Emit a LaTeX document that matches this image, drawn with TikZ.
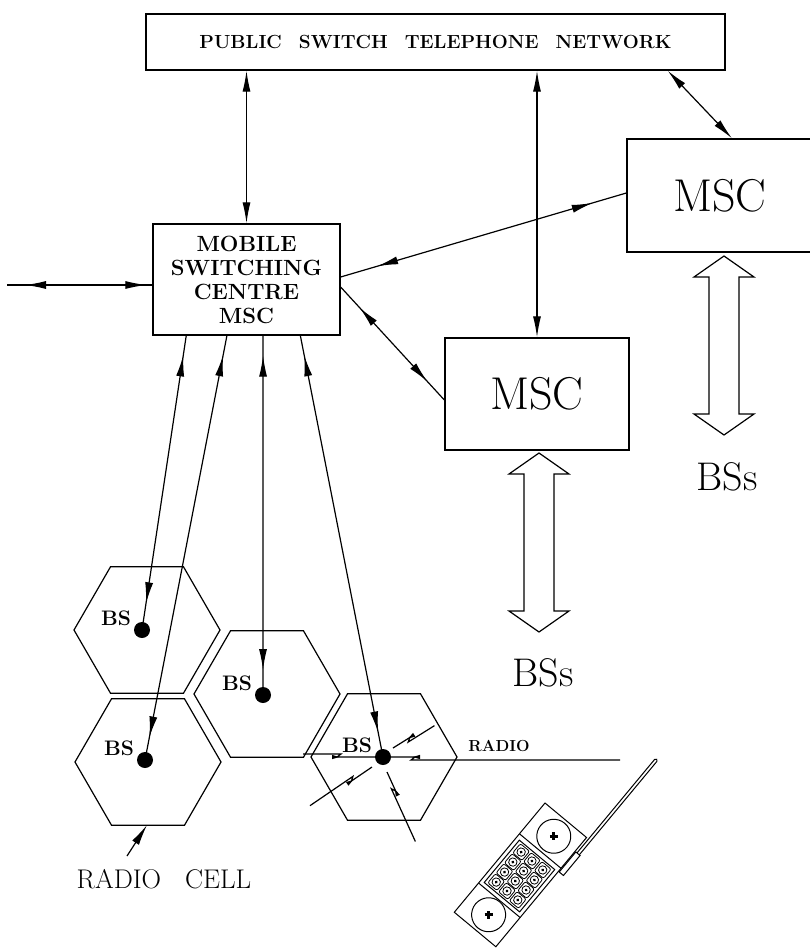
\documentclass[tikz,border=0pt]{standalone}
\usepackage{fontspec}
\usetikzlibrary{arrows.meta,calc,decorations.markings}

% lightning-style radio path: start, angle, length, position of the kink
\newcommand\radiobolt[4]{%
  \begin{scope}[shift={#1}, rotate=#2]
    \draw (0,0) -- (#4,0) -- ({#4-4},3) -- (#3,3);
    \fill ({#4-2},0) -- ({#4+5},-2.2) -- ({#4+5},2.2) -- cycle;
  \end{scope}}

\tikzset{
  box/.style={draw, rectangle, line width=1.3pt, inner sep=0pt, align=center},
  both/.style={<->},
  headsin/.style 2 args={postaction={decorate}, decoration={markings,
      mark=at position #1 with {\arrowreversed{>}},
      mark=at position -#2 with {\arrow{>}}}},
  bsdot/.style={circle, fill, inner sep=0pt, minimum size=16pt},
  bstext/.style={font=\bfseries\fontsize{21}{24}\selectfont, inner sep=0pt},
  smallcaps/.style={font=\bfseries\fontsize{22}{24}\selectfont},
  bigcaps/.style={font=\fontsize{46}{50}\selectfont},
  bsslabel/.style={font=\fontsize{40}{44}\selectfont, inner sep=0pt},
  hexcell/.pic={\draw (73,0) -- (36.5,63.2) -- (-36.5,63.2) -- (-73,0)
      -- (-36.5,-63.2) -- (36.5,-63.2) -- cycle;},
  fatarrow/.pic={\draw (0,0) -- (30,21) -- (15,21) -- (15,158) -- (30,158)
      -- (0,179) -- (-30,158) -- (-15,158) -- (-15,21) -- (-30,21) -- cycle;},
  plusmark/.pic={\draw[line width=2.6pt] (-4,0) -- (4,0) (0,-4) -- (0,4);}
}

\begin{document}
\begin{tikzpicture}[x=1pt, y=-1pt, line width=1.2pt,
    >={Latex[length=21pt,width=8pt]}]
\path[use as bounding box] (0,0) rectangle (810,950);
\clip (0,0) rectangle (810,950);

% switching network
\node[box, font=\bfseries\fontsize{19}{22}\selectfont, minimum width=579pt, minimum height=56pt]
  (pstn) at (435.5,42)
  {PUBLIC\hspace{17pt}SWITCH\hspace{17pt}TELEPHONE\hspace{17pt}NETWORK};
\node[box, smallcaps, minimum width=187pt, minimum height=111pt] (msc1) at (246.5,279.5)
  {MOBILE\\SWITCHING\\CENTRE\\MSC};
\node[box, bigcaps, minimum width=184pt, minimum height=112pt] (msc2) at (537,394) {MSC};
\node[box, bigcaps, minimum width=186pt, minimum height=113pt] (msc3) at (720,195.5) {MSC};

\draw[both] (msc1.north |- pstn.south) -- (msc1.north);
\draw[both] (msc2.north |- pstn.south) -- (msc2.north);
\draw[both] ($(pstn.south east)+(-58,0)$) -- ($(msc3.north)+(12,0)$);

\coordinate (ext) at (7,285);
\draw[headsin={18pt}{6pt}] (ext) -- ([yshift=-5.5pt]msc1.west);
\draw[headsin={38pt}{35pt}] ([yshift=2.5pt]msc1.east) -- ([yshift=2.5pt]msc3.west);
\draw[headsin={28pt}{25pt}] ([yshift=-7.5pt]msc1.east) -- ([yshift=-6pt]msc2.west);

% trunks to further base stations
\pic at (539,453) {fatarrow};
\pic at (724,256) {fatarrow};
\node[bsslabel] (bss2) at (543,673) {BSs};
\node[bsslabel] (bss3) at (727,477) {BSs};

% radio cells
\pic at (147,630) {hexcell};
\pic at (148,762) {hexcell};
\pic at (267,694) {hexcell};
\pic at (384,757) {hexcell};

\node[bsdot] (d1) at (142,630) {};
\node[bsdot] (d2) at (145,760) {};
\node[bsdot] (d3) at (263,695) {};
\node[bsdot] (d4) at (383,757) {};
\foreach \d in {d1,d2,d3,d4}
  \node[bstext] at ($(\d)+(-26,-12)$) {BS};

\draw[headsin={20pt}{27pt}] ($(msc1.south west)!0.18!(msc1.south east)$) -- (d1.center);
\draw[headsin={20pt}{23pt}] ($(msc1.south west)!0.396!(msc1.south east)$) -- (d2.center);
\draw[headsin={20pt}{25pt}] ($(msc1.south west)!0.588!(msc1.south east)$) -- (d3.center);
\draw[headsin={20pt}{25pt}] ($(msc1.south west)!0.786!(msc1.south east)$) -- (d4.center);

% radio links around the base station
\radiobolt{(393,748)}{32}{47}{20}
\radiobolt{(372,767)}{214.3}{73}{25}
\radiobolt{(387,772)}{-65.5}{75}{21}
\radiobolt{(383,757)}{180}{80}{46}
\radiobolt{(383,757)}{0}{237}{32}
\node[font=\bfseries\fontsize{16}{18}\selectfont] (radio) at (499,746) {RADIO};

\node[font=\fontsize{27}{30}\selectfont] (cell) at (164,879) {RADIO\hspace{24pt}CELL};
\coordinate (cellTail) at (127,856);
\coordinate (cellTip) at (147,825);
\draw[->] (cellTail) -- (cellTip);

% handset
\begin{scope}[shift={(545,803)}, rotate=-39.7, line width=1pt]
  \draw[rounded corners=1.5pt] (56.5,20) rectangle (59.5,-105);
  \draw[fill=white] (55,18) rectangle (60.5,44);
  \draw (0,0) rectangle (54,142);
  \draw (0,40) -- (54,40);
  \draw (0,104) -- (54,104);
  \draw (28,20) circle [radius=17];
  \draw (28,122) circle [radius=17];
  \pic at (28,20) {plusmark};
  \pic at (28,122) {plusmark};
  \draw (4,45) rectangle (50,100);
  \foreach \r in {0,...,3}
    \foreach \c in {0,1,2} {
      \draw[line width=0.8pt, rounded corners=2pt]
        ({13+\c*14-6},{53+\r*13-6}) rectangle +(12,12);
      \draw[line width=0.8pt] ({13+\c*14},{53+\r*13}) circle [radius=4.2];
      \fill ({13+\c*14},{53+\r*13}) circle [radius=1.6];
    }
\end{scope}
\end{tikzpicture}
\end{document}
